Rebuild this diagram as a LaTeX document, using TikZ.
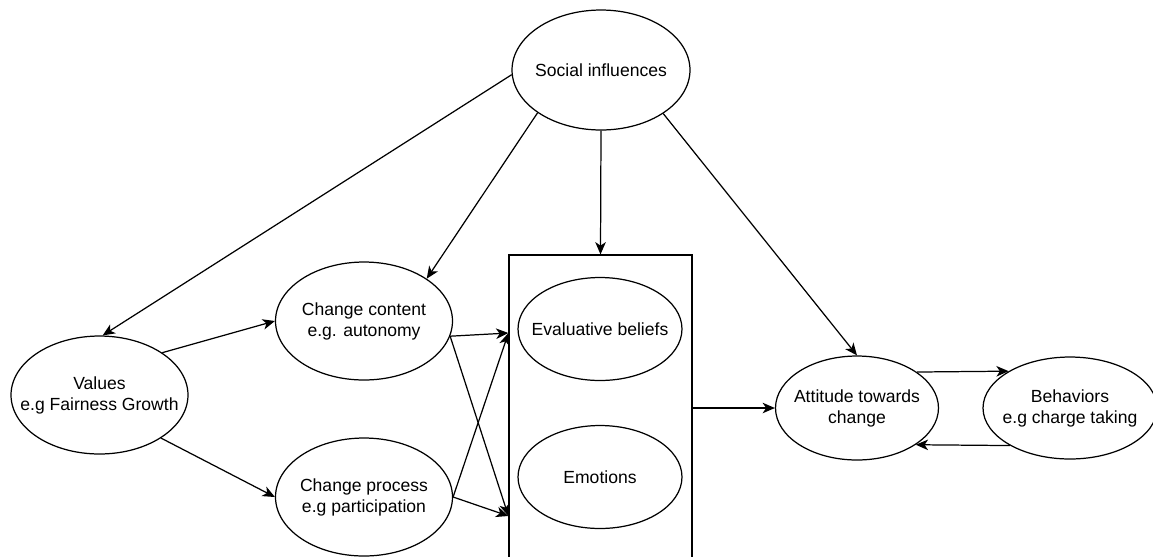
\documentclass[tikz,border=0pt]{standalone}
\usepackage{fontspec}
\setmainfont{Liberation Sans}
\usepackage{tikz}
\usetikzlibrary{arrows.meta,shapes.geometric}

\tikzset{
	bubble/.style={draw, ellipse, line width=0.7pt, inner xsep=-1.5cm, inner ysep=0pt, align=center, font=\fontsize{10}{12}\selectfont},
	frame/.style={draw, rectangle, line width=0.7pt, inner sep=0pt},
	arr/.style={line width=0.7pt, -{Stealth[length=7pt,width=6pt,inset=2pt]}}
}

\begin{document}
\begin{tikzpicture}[x=0.02cm, y=-0.02cm]
			%%%%% START %%%%%
			
			\path[use as bounding box] (0, 0) rectangle (1153, 556);
			\clip (0, 0) rectangle (1153, 556);
			
			\node[bubble, minimum width=3.56cm, minimum height=2.4cm] (si) at (601, 70) {Social influences};
			\node[bubble, minimum width=3.54cm, minimum height=2.36cm] (val) at (99.5, 395) {Values\\e.g Fairness Growth};
			\node[bubble, minimum width=3.54cm, minimum height=2.36cm] (cc) at (364, 321) {Change content\\e.g. autonomy};
			\node[bubble, minimum width=3.54cm, minimum height=2.36cm] (cp) at (364, 497) {Change process\\e.g participation};
			
			\node[frame, minimum width=3.66cm, minimum height=6.12cm] (box) at (600.5, 408) {};
			\node[bubble, minimum width=3.28cm, minimum height=2.06cm] (eb) at (600, 329) {Evaluative beliefs};
			\node[bubble, minimum width=3.28cm, minimum height=2.06cm] (emo) at (600, 477) {Emotions};
			\coordinate (inup) at ([yshift=1.5cm]box.west);
			\coordinate (indn) at ([yshift=-2.16cm]box.west);
			
			\node[bubble, minimum width=3.26cm, minimum height=2.08cm] (att) at (857, 408) {Attitude towards\\change};
			\node[bubble, minimum width=3.48cm, minimum height=2.04cm] (beh) at (1070, 408) {Behaviors\\e.g charge taking};
			
			\draw[arr] (si.183) -- (val.87);
			\draw[arr] (si.214) -- (cc.34.5);
			\draw[arr] (si.south) -- (box.north);
			\draw[arr] (si.-35) -- (att.north);
			
			\draw[arr] (val.34) -- (cc.west);
			\draw[arr] (val.-35) -- (cp.west);
			
			\draw[arr] (cc.-10) -- (inup);
			\draw[arr] (cc.-10) -- (indn);
			\draw[arr] (cp.east) -- (inup);
			\draw[arr] (cp.east) -- (indn);
			
			\draw[arr] (box.east) -- (att.west);
			\draw[arr] (att.31.5) -- (beh.149.7);
			\draw[arr] (beh.-148.3) -- (att.-32.9);
			
			%%%%% END %%%%%
\end{tikzpicture}
\end{document}
